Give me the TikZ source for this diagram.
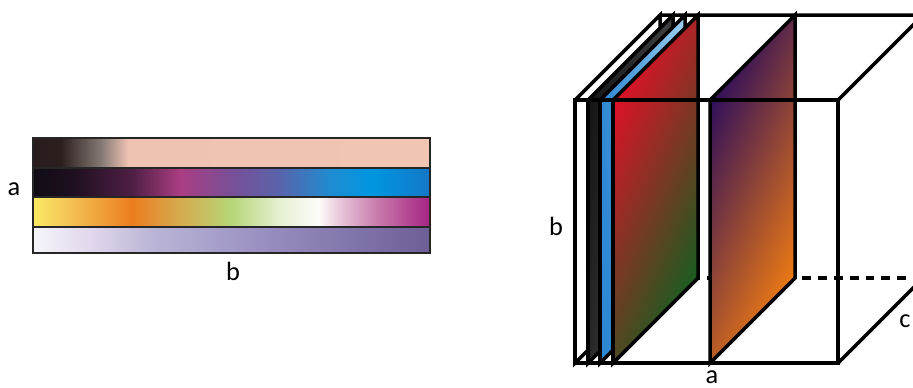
\documentclass[tikz,border=0pt]{standalone}
\usepackage{fontspec}
\setmainfont{Carlito}
\usetikzlibrary{calc,shadings}
\definecolor{redtop}{RGB}{235,12,40}
\definecolor{redmid}{RGB}{110,48,30}
\definecolor{greenlow}{RGB}{12,98,32}
\definecolor{indigo}{RGB}{36,8,95}
\definecolor{indigomid}{RGB}{90,28,85}
\definecolor{orangelow}{RGB}{248,128,15}
\definecolor{bluepale}{RGB}{160,210,240}
\definecolor{bluemid}{RGB}{45,135,210}
\pgfdeclarehorizontalshading{barone}{100bp}{rgb(0bp)=(.16,.11,.11); rgb(25bp)=(.16,.11,.11); rgb(28.5bp)=(.18,.12,.12); rgb(33.5bp)=(.51,.47,.45); rgb(37bp)=(.94,.76,.70); rgb(75bp)=(.95,.77,.70); rgb(100bp)=(.95,.77,.70)}
\pgfdeclarehorizontalshading{bartwo}{100bp}{rgb(0bp)=(.06,.05,.08); rgb(25bp)=(.06,.05,.08); rgb(30bp)=(.12,.06,.12); rgb(37.5bp)=(.31,.12,.27); rgb(43.5bp)=(.67,.24,.51); rgb(50bp)=(.47,.31,.59); rgb(56bp)=(.35,.39,.67); rgb(62.5bp)=(.12,.55,.82); rgb(67.5bp)=(0,.59,.88); rgb(75bp)=(.08,.47,.78); rgb(100bp)=(.08,.47,.78)}
\pgfdeclarehorizontalshading{barthree}{100bp}{rgb(0bp)=(.98,.92,.39); rgb(25bp)=(.98,.92,.39); rgb(29bp)=(.96,.78,.35); rgb(37.5bp)=(.92,.49,.12); rgb(43.5bp)=(.84,.67,.31); rgb(50bp)=(.71,.84,.47); rgb(56bp)=(.90,.94,.82); rgb(61bp)=(.99,.99,.98); rgb(64bp)=(.90,.75,.84); rgb(68.5bp)=(.78,.47,.67); rgb(75bp)=(.65,.14,.51); rgb(100bp)=(.65,.14,.51)}
\pgfdeclarehorizontalshading{barfour}{100bp}{rgb(0bp)=(.96,.96,.98); rgb(25bp)=(.96,.96,.98); rgb(32.5bp)=(.88,.84,.92); rgb(40bp)=(.73,.71,.84); rgb(55bp)=(.59,.55,.75); rgb(75bp)=(.43,.37,.59); rgb(100bp)=(.43,.37,.59)}

\begin{document}
\begin{tikzpicture}[x=0.02cm,y=-0.02cm,
  edge/.style={line width=2pt},
  bar/.style={draw=black!85,line width=1.2pt},
  lab/.style={font=\fontsize{15}{17}\selectfont,inner sep=0pt}]
\useasboundingbox (0,0) rectangle (913,387);
\clip (0,0) rectangle (913,387);
% colour bars
\shade[bar,shading=barone] (33,138) rectangle (430,168);
\shade[bar,shading=bartwo] (33,168) rectangle (430,197);
\shade[bar,shading=barthree] (33,197) rectangle (430,227);
\shade[bar,shading=barfour] (33,227) rectangle (430,253);
\node[lab] (bara) at (14,189) {a};
\node[lab] (barb) at (233,271) {b};
% box, back edges
\draw[edge,dash pattern=on 5pt off 4pt] (660,278)--(923,278);
\draw[edge] (660,15)--(923,15) (838,100)--(923,15) (838,363)--(923,278);
% sheets
\filldraw[edge,fill=white] (575,100)--(660,15)--(660,278)--(575,363)--cycle;
\shade[edge,draw=black,upper left=black!95,upper right=black!75,lower left=black!85,lower right=black!55] (588,100)--(673,15)--(673,278)--(588,363)--cycle;
\shade[edge,draw=black,upper left=bluemid,upper right=bluepale,lower left=bluemid,lower right=bluemid] (600,100)--(685,15)--(685,278)--(600,363)--cycle;
\shade[edge,draw=black,top color=redtop,middle color=redmid,bottom color=greenlow,shading angle=65] (613,100)--(698,15)--(698,278)--(613,363)--cycle;
\shade[edge,draw=black,top color=indigo,middle color=indigomid,bottom color=orangelow,shading angle=65] (710,100)--(795,15)--(795,278)--(710,363)--cycle;
% front face
\draw[edge] (575,100) rectangle (838,363);
\node[lab] (cubeb) at (556,226) {b};
\node[lab,anchor=base] (cubea) at (712,383) {a};
\node[lab] (cubec) at (905,321) {c};
\end{tikzpicture}
\end{document}
